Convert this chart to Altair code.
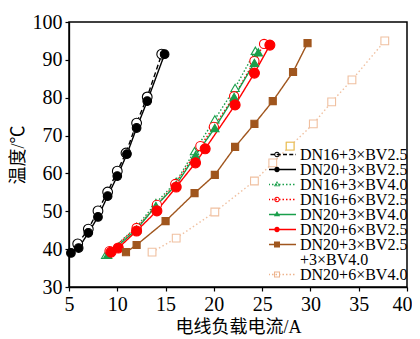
import altair as alt
import pandas as pd

# ---------------- data ----------------
series_names = [
    "DN16+3×BV2.5", "DN20+3×BV2.5", "DN16+3×BV4.0", "DN16+6×BV2.5",
    "DN20+3×BV4.0", "DN20+6×BV2.5", "DN20+3×BV2.5+3×BV4.0", "DN20+6×BV4.0",
]

s1_x = [5.9, 7.0, 8.0, 9.0, 10.0, 10.9, 12.0, 13.1, 14.6]
s1_y = [41.4, 45.3, 50.1, 55.1, 60.6, 65.4, 73.3, 80.2, 91.5]
s2_x = [5.2, 6.0, 7.0, 8.0, 9.0, 10.0, 11.0, 12.0, 13.1, 14.9]
s2_y = [39.0, 40.3, 44.3, 48.5, 54.0, 59.3, 65.1, 72.0, 79.1, 91.5]
s3_x = [8.8, 12.0, 14.0, 16.1, 18.0, 20.1, 22.2, 24.3]
s3_y = [38.5, 45.9, 52.2, 57.8, 65.9, 74.3, 82.6, 92.4]
s4_x = [9.2, 12.0, 14.1, 16.0, 18.6, 20.0, 22.1, 24.2, 25.2]
s4_y = [39.5, 45.6, 51.7, 57.2, 67.2, 72.3, 80.4, 89.7, 94.2]
s5_x = [9.0, 12.0, 14.0, 16.1, 18.1, 20.1, 22.1, 24.2, 24.6]
s5_y = [38.5, 45.2, 51.4, 57.0, 64.8, 72.0, 80.2, 89.2, 92.0]
s6_x = [9.35, 10.1, 12.0, 14.1, 16.1, 18.1, 19.1, 22.2, 24.2, 25.8]
s6_y = [39.2, 40.3, 44.8, 50.1, 56.4, 62.8, 66.5, 78.1, 86.5, 93.9]
s7_x = [10.9, 12.0, 15.0, 18.0, 20.1, 22.2, 24.2, 26.1, 28.2, 29.7]
s7_y = [39.2, 41.1, 47.4, 54.8, 59.6, 67.0, 73.1, 79.1, 86.8, 94.4]
s8_x = [13.6, 16.1, 20.1, 24.2, 26.1, 27.9, 30.3, 32.2, 34.3, 37.7]
s8_y = [39.2, 42.9, 49.8, 58.0, 62.8, 67.2, 73.1, 78.9, 84.7, 95.0]
highlight_x = [27.9]  # yellow-outlined marker on the last series

x_ticks = [5, 10, 15, 20, 25, 30, 35, 40]
y_ticks = [30, 40, 50, 60, 70, 80, 90, 100]

xs = [s1_x, s2_x, s3_x, s4_x, s5_x, s6_x, s7_x, s8_x]
ys = [s1_y, s2_y, s3_y, s4_y, s5_y, s6_y, s7_y, s8_y]
rows = []
for name, sx, sy in zip(series_names, xs, ys):
    for a, b in zip(sx, sy):
        rows.append({"series": name, "x": a, "y": b, "order": series_names.index(name)})
df = pd.DataFrame(rows)

# ---------------- styles ----------------
line_colors = ["#000000", "#000000", "#1a9f4b", "#ff0000", "#1a9f4b", "#ff0000", "#a0561e", "#f0c0a0"]
pt_stroke = ["#000000", "#000000", "#1a9f4b", "#ff0000", "#1a9f4b", "#ff0000", "#a0561e", "#e8b08a"]
pt_fill = ["#ffffff", "#000000", "#ffffff", "#ffffff", "#1a9f4b", "#ff0000", "#a0561e", "#ffffff"]
pt_shape = ["circle", "circle", "triangle-up", "circle", "triangle-up", "circle", "square", "square"]
pt_size = [95, 75, 70, 85, 70, 100, 50, 60]
dashes = [[5, 3], [1, 0], [1.5, 2], [1.5, 2], [1, 0], [1, 0], [1, 0], [1.5, 2.5]]

SERIF = "Liberation Serif"
CJK = "Liberation Serif, Noto Sans CJK SC"

# legend symbol paths (unit = 5px with symbolSize 100)
L = 3.8
H = 0.15


def rect(x0, x1, h=H):
    return f"M{x0:.3f},{-h:.3f}H{x1:.3f}V{h:.3f}H{x0:.3f}Z"


def line_path(kind):
    if kind == "solid":
        return rect(-L, L)
    seg, gap = (0.8, 0.45) if kind == "dash" else (0.3, 0.4)
    out, x = [], -L
    while x < L:
        out.append(rect(x, min(x + seg, L)))
        x += seg + gap
    return "".join(out)


def circ(r, cw=True):
    s = 1 if cw else 0
    return f"M{-r},0A{r},{r} 0 1 {s} {r},0A{r},{r} 0 1 {s} {-r},0Z"


def tri(R, cw=True):
    a, b = 0.866 * R, 0.5 * R
    if cw:
        return f"M0,{-R}L{a:.3f},{b:.3f}L{-a:.3f},{b:.3f}Z"
    return f"M0,{-R}L{-a:.3f},{b:.3f}L{a:.3f},{b:.3f}Z"


def sq(a, cw=True):
    if cw:
        return f"M{-a},{-a}H{a}V{a}H{-a}Z"
    return f"M{-a},{-a}V{a}H{a}V{-a}Z"


def marker(kind, filled):
    if kind == "circle":
        return circ(0.55) + ("" if filled else circ(0.35, False))
    if kind == "tri":
        return tri(0.72) + ("" if filled else tri(0.42, False))
    return sq(0.6) + ("" if filled else sq(0.4, False))


legend_domain = series_names[:7] + ["+3×BV4.0", series_names[7]]
legend_colors = line_colors[:6] + ["#a0561e", "#ffffff", "#edb48e"]
legend_paths = [
    line_path("dash") + marker("circle", False),
    line_path("solid") + marker("circle", True),
    line_path("dot") + marker("tri", False),
    line_path("dot") + marker("circle", False),
    line_path("solid") + marker("tri", True),
    line_path("solid") + marker("circle", True),
    line_path("solid") + marker("sq", True),
    "M-0.1,-0.1H0.1V0.1H-0.1Z",
    line_path("dot") + marker("sq", False),
]

xscale = alt.Scale(domain=[5, 40], nice=False, zero=False)
yscale = alt.Scale(domain=[30, 100], nice=False, zero=False)

x_enc = alt.X("x:Q", scale=xscale, axis=alt.Axis(
    values=x_ticks, title="电线负载电流/A", grid=False, tickSize=4,
    labelPadding=3, titlePadding=4, labelFlush=False,
    labelOffset={"expr": "datum.value == 40 ? -5 : 0"}))
y_enc = alt.Y("y:Q", scale=yscale, axis=alt.Axis(
    values=y_ticks, title="温度/℃", grid=False, tickSize=4,
    labelPadding=3, titlePadding=5, labelFlush=False))

stroke_scale = alt.Scale(domain=series_names, range=line_colors)

lines = alt.Chart(df).mark_line(strokeWidth=1.4).encode(
    x=x_enc, y=y_enc,
    stroke=alt.Stroke("series:N", scale=stroke_scale, legend=None),
    strokeDash=alt.StrokeDash("series:N", scale=alt.Scale(domain=series_names, range=dashes), legend=None),
    detail="series:N",
)

points = alt.Chart(df).mark_point(opacity=1, strokeWidth=1.1).encode(
    x=x_enc, y=y_enc,
    shape=alt.Shape("series:N", scale=alt.Scale(domain=series_names, range=pt_shape), legend=None),
    stroke=alt.Stroke("series:N", scale=alt.Scale(domain=series_names, range=pt_stroke), legend=None),
    fill=alt.Fill("series:N", scale=alt.Scale(domain=series_names, range=pt_fill), legend=None),
    size=alt.Size("series:N", scale=alt.Scale(type="ordinal", domain=series_names, range=pt_size), legend=None),
    order=alt.Order("order:Q"),
)

hl = alt.Chart(df).transform_filter(
    (alt.datum.series == series_names[7]) & (alt.datum.x == highlight_x[0])
).mark_point(shape="square", size=60, strokeWidth=1.1, opacity=1, color="#e8c050", fill="#ffffff").encode(
    x=x_enc, y=y_enc)

legend_layer = alt.Chart(df).transform_filter("false").mark_point(filled=True, opacity=1).encode(
    color=alt.Color("series:N", scale=alt.Scale(domain=legend_domain, range=legend_colors),
                    legend=alt.Legend(
                        title=None, orient="none", legendX=200, legendY=126, padding=0,
                        symbolSize=100, labelOffset=15, rowPadding=-3, clipHeight=13.1,
                        labelFont=SERIF, labelFontSize=16, labelColor="#000000",
                        symbolStrokeWidth=0, symbolOpacity=1, labelLimit=300,
                        labelExpr="datum.label == 'DN20+3×BV2.5+3×BV4.0' ? 'DN20+3×BV2.5' : datum.label",
                    )),
    shape=alt.Shape("series:N", scale=alt.Scale(domain=legend_domain, range=legend_paths)),
)

chart = alt.layer(lines, points, hl, legend_layer).resolve_scale(
    shape="independent", color="independent"
).properties(
    width=338, height=265,
    autosize=alt.AutoSizeParams(type="none"),
    padding={"left": 61, "top": 14, "right": 5, "bottom": 50},
).configure_view(
    stroke="#000000", strokeWidth=1.5
).configure_axis(
    labelFont=SERIF, labelFontSize=20, labelColor="#000000",
    titleFont=CJK, titleFontSize=18, titleFontWeight="normal", titleColor="#000000",
    domainColor="#000000", domainWidth=1.3, tickColor="#000000", tickWidth=1.2,
)

chart.save("out.html", embed_options={"renderer": "svg", "actions": False})
